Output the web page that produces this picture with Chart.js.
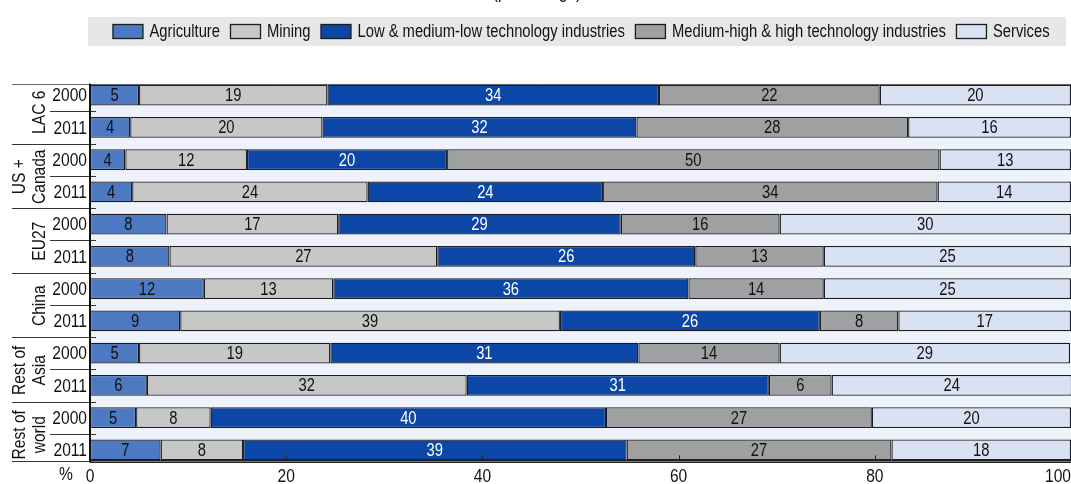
<!DOCTYPE html>
<html><head><meta charset="utf-8">
<script src="https://cdn.jsdelivr.net/npm/chart.js@4/dist/chart.umd.min.js"></script>
<style>html,body{margin:0;padding:0;background:#fff;}#wrap{width:1071px;height:484px;position:relative;}</style>
</head><body><div id="wrap"><canvas id="c" width="1071" height="484"></canvas></div>
<script>
const FONT = "'Liberation Sans',Arial,sans-serif";
const SX = 0.82; // horizontal condensing of text
const title = "(percentage)";
const years = ['2000','2011','2000','2011','2000','2011','2000','2011','2000','2011','2000','2011'];
const groups = ['LAC 6','US +\nCanada','EU27','China','Rest of\nAsia','Rest of\nworld'];
const seriesNames = ['Agriculture','Mining','Low & medium-low technology industries','Medium-high & high technology industries','Services'];
const colors = ['#4d78c2','#c7c7c7','#0c47a8','#a0a0a3','#d9e2f2'];
const textColors = ['#111','#111','#fff','#111','#111'];
// bar lengths (%)
const agriculture = [5.0, 4.1, 3.6, 4.3, 7.8, 8.1, 11.6, 9.2, 5.0, 5.8, 4.7, 7.2];
const mining      = [19.2, 19.6, 12.4, 24.0, 17.5, 27.3, 13.2, 38.7, 19.5, 32.6, 7.6, 8.4];
const lowTech     = [33.8, 32.0, 20.4, 24.0, 28.8, 26.3, 36.2, 26.5, 31.4, 30.8, 40.3, 39.1];
const highTech    = [22.5, 27.7, 50.2, 34.1, 16.2, 13.1, 13.8, 8.0, 14.4, 6.4, 27.1, 27.0];
const services    = [19.5, 16.6, 13.4, 13.6, 29.7, 25.2, 25.2, 17.6, 29.6, 24.5, 20.3, 18.3];
// printed labels
const agricultureLbl = [5,4,4,4,8,8,12,9,5,6,5,7];
const miningLbl      = [19,20,12,24,17,27,13,39,19,32,8,8];
const lowTechLbl     = [34,32,20,24,29,26,36,26,31,31,40,39];
const highTechLbl    = [22,28,50,34,16,13,14,8,14,6,27,27];
const servicesLbl    = [20,16,13,14,30,25,25,17,29,24,20,18];
const xTicks = [0,20,40,60,80,100];

const seriesValues = [agriculture, mining, lowTech, highTech, services];
const seriesLabels = [agricultureLbl, miningLbl, lowTechLbl, highTechLbl, servicesLbl];
const rowKeys = years.map((y,i)=> groups[Math.floor(i/2)].replace('\n',' ') + ' ' + y);

const datasets = seriesNames.map((n,k)=>({
  label:n, data:seriesValues[k], backgroundColor:colors[k], borderColor:'#1c1c1c',
  borderWidth:1.3, borderSkipped:false, categoryPercentage:0.65, barPercentage:1,
  printed:seriesLabels[k], textColor:textColors[k]
}));

function txt(ctx, s, x, y, rot){
  ctx.save(); ctx.translate(x, y); if (rot) ctx.rotate(rot); ctx.scale(SX, 1);
  ctx.fillText(s, 0, 0); ctx.restore();
}

const custom = {
  id:'custom',
  beforeDatasetsDraw(chart){
    const ctx = chart.ctx, ca = chart.chartArea;
    const m0 = chart.getDatasetMeta(0).data;
    const top = m0[0].y - m0[0].height/2 - 1;
    const bot = m0[m0.length-1].y + m0[m0.length-1].height/2;
    ctx.save();
    ctx.fillStyle = '#eef2fa';
    ctx.fillRect(ca.left, top, ca.right-ca.left, bot-top);
    ctx.restore();
  },
  afterDatasetsDraw(chart){
    const ctx = chart.ctx, ca = chart.chartArea;
    const xs = chart.scales.x;
    const m0 = chart.getDatasetMeta(0).data;
    const top = m0[0].y - m0[0].height/2 - 1;
    const bot = m0[m0.length-1].y + m0[m0.length-1].height/2;
    ctx.save();
    // value labels
    ctx.font = '18px ' + FONT;
    ctx.textAlign = 'center'; ctx.textBaseline = 'middle';
    chart.data.datasets.forEach((ds,k)=>{
      chart.getDatasetMeta(k).data.forEach((el,i)=>{
        const p = el.getCenterPoint();
        ctx.fillStyle = ds.textColor;
        txt(ctx, String(ds.printed[i]), p.x, p.y+1);
      });
    });
    // top line
    ctx.strokeStyle = '#666'; ctx.lineWidth = 1;
    ctx.beginPath(); ctx.moveTo(12, Math.round(top)+0.5); ctx.lineTo(ca.right, Math.round(top)+0.5); ctx.stroke();
    // row separators
    ctx.strokeStyle = '#333';
    for (let i=0;i<m0.length-1;i++){
      const y = Math.round((m0[i].y + m0[i+1].y)/2)+0.5;
      ctx.beginPath();
      ctx.moveTo(i%2===1 ? 12 : 50, y); ctx.lineTo(ca.left+6, y); ctx.stroke();
    }
    // bottom line (left part)
    ctx.beginPath(); ctx.moveTo(12, Math.round(bot)+1.5); ctx.lineTo(ca.left, Math.round(bot)+1.5); ctx.stroke();
    // x axis (double line)
    ctx.fillStyle = '#222';
    ctx.fillRect(ca.left, Math.round(bot), ca.right-ca.left, 3);
    ctx.fillStyle = '#777';
    ctx.fillRect(ca.left, Math.round(bot)+1, ca.right-ca.left, 1);
    // ticks
    ctx.strokeStyle = '#222'; ctx.lineWidth = 1;
    xTicks.forEach(v=>{
      if (v===0||v===100) return;
      const x = Math.round(xs.getPixelForValue(v))+0.5;
      ctx.beginPath(); ctx.moveTo(x, bot); ctx.lineTo(x, bot-5); ctx.stroke();
    });
    // y axis line
    ctx.fillStyle = '#111';
    ctx.fillRect(ca.left-1, top, 2, bot-top+2);
    // tick labels
    ctx.fillStyle = '#111'; ctx.font = '19px ' + FONT;
    ctx.textBaseline = 'middle';
    xTicks.forEach((v,i)=>{
      const last = i===xTicks.length-1;
      ctx.textAlign = last ? 'right' : 'center';
      txt(ctx, String(v), last ? ca.right : xs.getPixelForValue(v), 477);
    });
    ctx.textAlign = 'center';
    txt(ctx, '%', 66, 475);
    // year labels
    ctx.font = '19px ' + FONT; ctx.textAlign = 'right';
    m0.forEach((el,i)=>{ txt(ctx, years[i], ca.left-3, el.y+1); });
    // group labels
    ctx.font = '19px ' + FONT; ctx.textAlign = 'center';
    groups.forEach((g,gi)=>{
      const yc = (m0[gi*2].y + m0[gi*2+1].y)/2 + 1;
      const lines = g.split('\n');
      lines.forEach((ln,li)=>{
        const x = 40 - (lines.length-1-li)*20;
        ctx.save(); ctx.translate(x, yc); ctx.rotate(-Math.PI/2); ctx.scale(SX,1);
        ctx.fillText(ln, 0, 0); ctx.restore();
      });
    });
    // legend
    ctx.fillStyle = '#e6e7e8';
    ctx.fillRect(88, 17, 978, 29);
    ctx.font = '18px ' + FONT; ctx.textAlign = 'left';
    const sw = 30, sh = 14, g1 = 7, g2 = 10;
    const widths = chart.data.datasets.map(d=>ctx.measureText(d.label).width*SX);
    let total = 0; widths.forEach((w,k)=>{ total += sw + g1 + w + (k<widths.length-1?g2:0); });
    let x = 581 - total/2;
    chart.data.datasets.forEach((d,k)=>{
      ctx.fillStyle = d.backgroundColor;
      ctx.fillRect(x+0.5, 24.5, sw, sh);
      ctx.strokeStyle = '#1c1c1c'; ctx.lineWidth = 1.3;
      ctx.strokeRect(x+0.5, 24.5, sw, sh);
      ctx.fillStyle = '#111';
      txt(ctx, d.label, x+sw+g1, 32);
      x += sw + g1 + widths[k] + g2;
    });
    // title (cut off at top)
    ctx.textAlign = 'center'; ctx.textBaseline = 'alphabetic';
    ctx.font = '19px ' + FONT;
    txt(ctx, title, 537, -2);
    ctx.restore();
  }
};

new Chart(document.getElementById('c'), {
  type:'bar',
  data:{ labels: rowKeys, datasets },
  options:{
    indexAxis:'y', responsive:false, animation:false,
    layout:{ padding:{ left:90, right:0, top:79, bottom:18 } },
    plugins:{ legend:{display:false}, tooltip:{enabled:false}, title:{display:false} },
    scales:{
      x:{ stacked:true, min:0, max:100, display:false },
      y:{ stacked:true, display:false }
    }
  },
  plugins:[custom]
});
</script></body></html>
